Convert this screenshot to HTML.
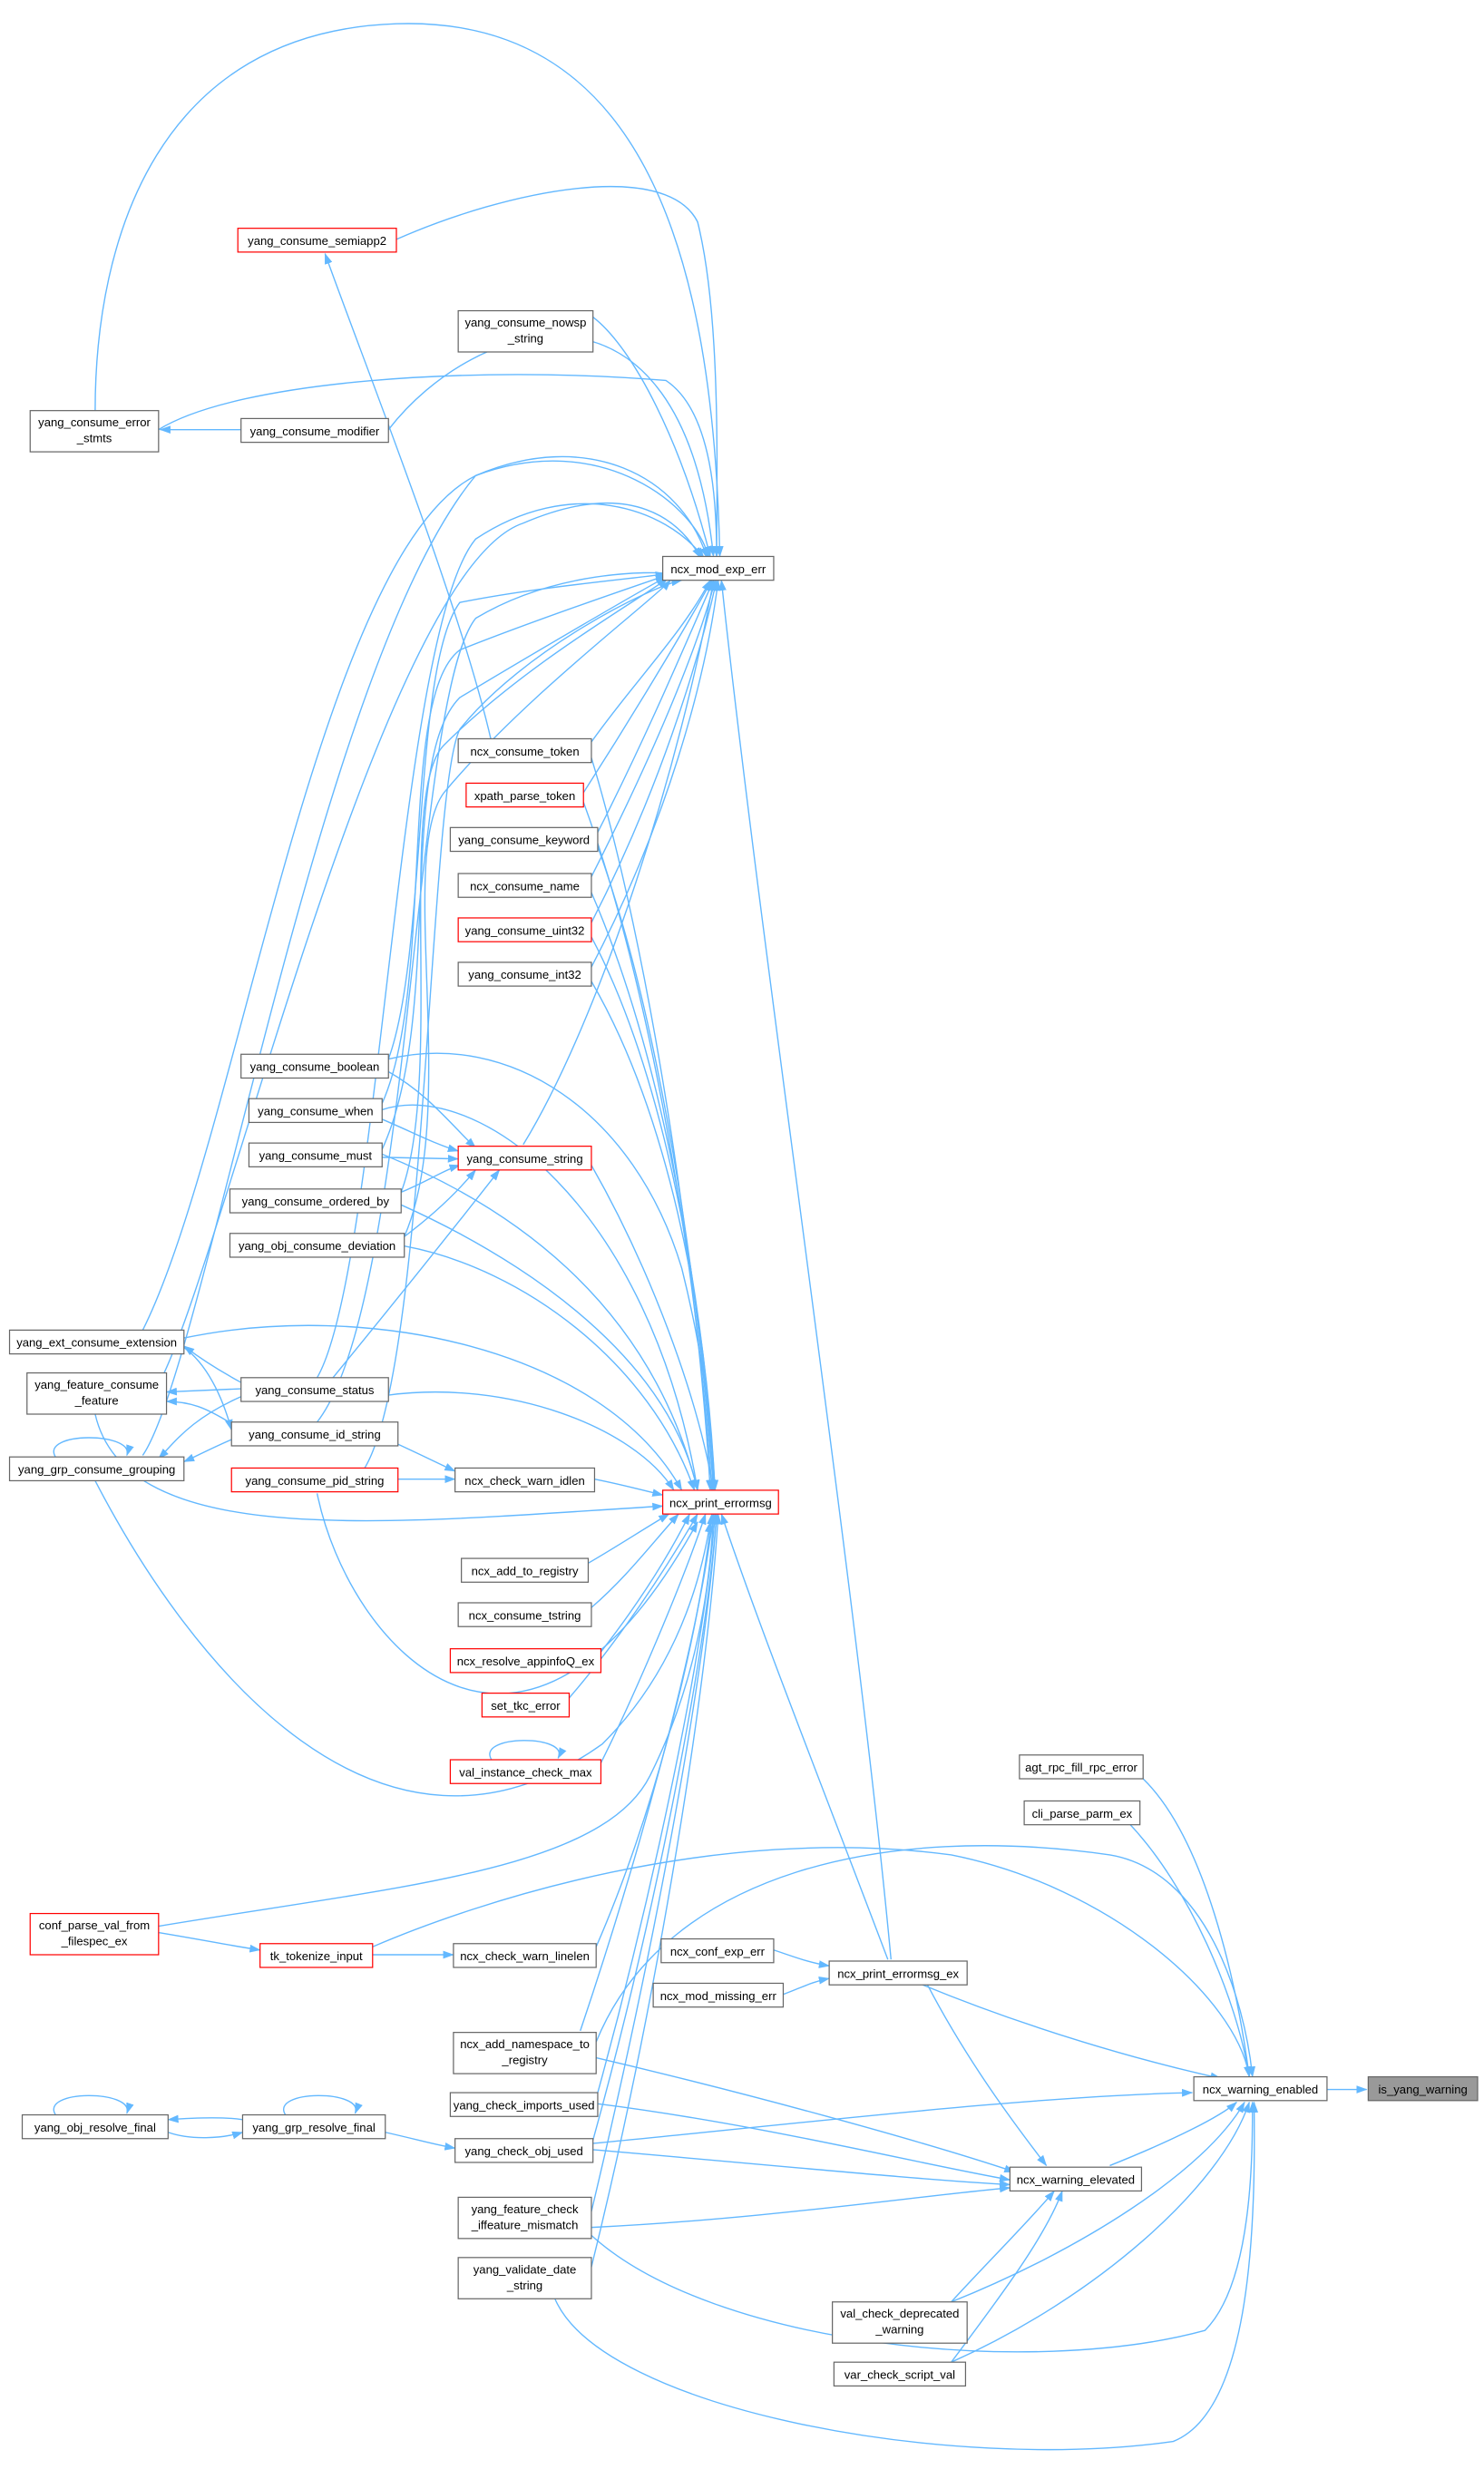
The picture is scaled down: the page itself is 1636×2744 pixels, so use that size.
<!DOCTYPE html>
<html><head><meta charset="utf-8"><style>
html,body{margin:0;padding:0;background:#fff}
svg{display:block}
text{font-family:"Liberation Sans",sans-serif;font-size:7.5px;fill:#000;text-anchor:middle}
.e{fill:none;stroke:#63b8ff;stroke-width:0.8}
.n{fill:#fff;stroke:#666;stroke-width:0.7}
.r{fill:#fff;stroke:#ff0000;stroke-width:0.7}
</style></head><body>
<svg width="1636" height="2744" viewBox="0 0 936 1570" xmlns="http://www.w3.org/2000/svg">
<defs><marker id="a" markerWidth="7" markerHeight="5" refX="6.5" refY="2.5" orient="auto" markerUnits="userSpaceOnUse"><path d="M0,0 L7,2.5 L0,5 z" fill="#63b8ff"/></marker></defs>
<g class="e" marker-end="url(#a)">
<path d="M837,1318 L862,1318"/>
<path d="M721,1122 C760,1160 780,1250 788,1310"/>
<path d="M712,1150 C750,1190 780,1260 788,1310"/>
<path d="M582,1252 C650,1280 720,1300 770,1311"/>
<path d="M700,1366 C740,1350 770,1335 780,1326"/>
<path d="M600,1452 C680,1420 760,1370 785,1326"/>
<path d="M600,1490 C690,1450 770,1380 788,1326"/>
<path d="M376,1288 C420,1180 560,1150 700,1170 C760,1180 785,1260 790,1310"/>
<path d="M235,1228 C300,1200 450,1150 600,1170 C700,1190 780,1260 788,1310"/>
<path d="M374,1352 C500,1340 650,1322 752,1320"/>
<path d="M373,1410 C450,1480 650,1500 760,1470 C790,1440 790,1360 790,1326"/>
<path d="M350,1450 C380,1520 600,1560 740,1540 C790,1520 792,1400 791,1326"/>
<path d="M585,1252 C610,1300 640,1340 660,1366"/>
<path d="M376,1298 C470,1320 580,1350 640,1370"/>
<path d="M377,1327 C480,1340 580,1365 637,1375"/>
<path d="M374,1356 C480,1365 580,1375 637,1378"/>
<path d="M373,1405 C480,1400 580,1385 637,1380"/>
<path d="M600,1452 C620,1430 650,1400 665,1382"/>
<path d="M600,1490 C630,1450 660,1410 670,1382"/>
<path d="M488,1230 C500,1234 510,1238 523,1240"/>
<path d="M494,1258 C505,1254 512,1250 523,1248"/>
<path d="M250,151 C320,120 420,100 440,140 C455,200 452,300 452,351"/>
<path d="M374,200 C400,220 430,280 448,351"/>
<path d="M245,271 C300,200 430,160 450,351"/>
<path d="M60,259 C60,150 100,20 250,15 C400,10 450,150 454,351"/>
<path d="M100,271 C150,240 300,230 420,240 C450,260 452,320 452,351"/>
<path d="M373,468 C400,430 430,400 448,366"/>
<path d="M368,500 C400,450 430,400 449,366"/>
<path d="M377,525 C410,460 435,400 450,366"/>
<path d="M373,553 C410,480 440,410 451,366"/>
<path d="M373,582 C415,500 440,420 452,366"/>
<path d="M373,610 C420,520 445,430 453,366"/>
<path d="M245,668 C270,600 260,420 290,380 C340,370 400,365 420,362"/>
<path d="M241,696 C275,620 250,440 290,410 C340,390 400,370 420,363"/>
<path d="M241,725 C280,640 250,480 290,440 C340,410 400,375 420,364"/>
<path d="M330,722 C380,640 430,480 450,366"/>
<path d="M253,752 C280,680 250,500 280,470 C330,420 400,380 421,365"/>
<path d="M255,780 C290,700 250,540 280,500 C330,440 410,380 423,366"/>
<path d="M90,839 C150,720 200,350 300,300 C370,270 430,300 446,352"/>
<path d="M200,869 C240,800 250,400 300,340 C360,300 420,320 444,352"/>
<path d="M100,873 C140,800 240,360 330,330 C400,300 430,330 442,352"/>
<path d="M200,897 C260,820 260,440 300,390 C350,360 410,360 425,362"/>
<path d="M90,918 C130,860 200,420 300,300 C380,270 440,320 447,352"/>
<path d="M230,926 C270,860 270,500 290,460 C330,410 410,370 430,366"/>
<path d="M562,1236 C540,1000 480,600 455,366"/>
<path d="M152,271 L101,271"/>
<path d="M310,468 C290,380 230,230 205,160"/>
<path d="M245,676 C270,690 285,710 300,724"/>
<path d="M241,706 C260,714 275,722 289,726"/>
<path d="M241,730 L289,731"/>
<path d="M253,752 C270,745 280,738 290,735"/>
<path d="M255,780 C275,765 290,750 300,738"/>
<path d="M210,869 C250,820 290,770 315,738"/>
<path d="M152,872 C130,860 120,852 116,849"/>
<path d="M152,876 L105,878"/>
<path d="M152,881 C120,895 110,910 100,920"/>
<path d="M146,898 C130,888 120,884 105,884"/>
<path d="M146,908 C130,915 125,918 116,922"/>
<path d="M116,850 C130,860 140,880 146,902"/>
<path d="M220,897 C250,910 270,920 287,928"/>
<path d="M251,933 L287,933"/>
<path d="M375,933 C395,937 405,940 418,943"/>
<path d="M373,478 C410,600 440,800 448,940"/>
<path d="M368,506 C410,620 440,800 449,940"/>
<path d="M377,534 C415,640 440,800 450,940"/>
<path d="M373,563 C415,660 442,800 450,940"/>
<path d="M373,591 C420,680 444,820 451,940"/>
<path d="M373,619 C420,700 445,820 451,940"/>
<path d="M373,735 C410,800 440,880 450,940"/>
<path d="M245,668 C320,650 400,700 430,800 C445,860 450,910 450,940"/>
<path d="M241,700 C300,680 410,760 440,940"/>
<path d="M241,728 C320,760 410,820 440,940"/>
<path d="M253,760 C320,790 420,850 440,940"/>
<path d="M255,786 C330,800 410,860 438,940"/>
<path d="M116,844 C230,820 380,850 430,940"/>
<path d="M245,880 C320,870 400,900 425,940"/>
<path d="M60,892 C80,980 250,960 418,950"/>
<path d="M200,942 C220,1040 330,1160 440,960"/>
<path d="M60,934 C120,1050 240,1200 380,1100 C420,1060 440,1010 448,960"/>
<path d="M371,986 C390,975 405,965 422,955"/>
<path d="M373,1014 C395,995 410,975 428,955"/>
<path d="M379,1042 C400,1015 420,985 435,955"/>
<path d="M359,1071 C390,1035 420,990 440,955"/>
<path d="M379,1112 C400,1070 430,1000 445,955"/>
<path d="M100,1215 C250,1190 380,1180 410,1120 C440,1060 448,1000 450,955"/>
<path d="M376,1228 C410,1150 440,1040 449,955"/>
<path d="M366,1281 C400,1180 440,1040 450,955"/>
<path d="M377,1320 C410,1200 445,1040 451,955"/>
<path d="M374,1350 C410,1220 445,1050 452,955"/>
<path d="M373,1395 C410,1240 445,1060 452,955"/>
<path d="M373,1430 C415,1260 447,1060 453,955"/>
<path d="M560,1236 C520,1130 480,1030 455,955"/>
<path d="M100,1219 C130,1224 150,1228 164,1230"/>
<path d="M235,1233 L286,1233"/>
<path d="M243,1345 C265,1350 275,1353 287,1355"/>
<path d="M153,1337 C140,1335 120,1336 106,1337"/>
<path d="M106,1345 C120,1350 140,1349 153,1345"/>
<path d="M35,1334 C25,1318 85,1318 80,1333"/>
<path d="M180,1334 C170,1318 230,1318 224,1333"/>
<path d="M35,919 C25,903 85,903 80,918"/>
<path d="M310,1110 C300,1094 360,1094 352,1109"/>
</g>
<g>
<rect class="n" x="863" y="1310" width="69" height="15" style="fill:#999"/><text x="897.5" y="1320.5">is_yang_warning</text>
<rect class="n" x="753" y="1310" width="84" height="15"/><text x="795" y="1320.5">ncx_warning_enabled</text>
<rect class="n" x="643" y="1107" width="78" height="15"/><text x="682" y="1117.5">agt_rpc_fill_rpc_error</text>
<rect class="n" x="646" y="1136" width="73" height="15"/><text x="682.5" y="1146.5">cli_parse_parm_ex</text>
<rect class="n" x="523" y="1237" width="87" height="15"/><text x="566.5" y="1247.5">ncx_print_errormsg_ex</text>
<rect class="n" x="417" y="1223" width="71" height="15"/><text x="452.5" y="1233.5">ncx_conf_exp_err</text>
<rect class="n" x="412" y="1251" width="82" height="15"/><text x="453" y="1261.5">ncx_mod_missing_err</text>
<rect class="n" x="637" y="1367" width="83" height="15"/><text x="678.5" y="1377.5">ncx_warning_elevated</text>
<rect class="n" x="525" y="1452" width="85" height="26"/><text x="567.5" y="1462">val_check_deprecated</text><text x="567.5" y="1472">_warning</text>
<rect class="n" x="526" y="1490" width="83" height="15"/><text x="567.5" y="1500.5">var_check_script_val</text>
<rect class="n" x="418" y="351" width="70" height="15"/><text x="453" y="361.5">ncx_mod_exp_err</text>
<rect class="r" x="418" y="940" width="73" height="15"/><text x="454.5" y="950.5">ncx_print_errormsg</text>
<rect class="r" x="150" y="144" width="100" height="15"/><text x="200" y="154.5">yang_consume_semiapp2</text>
<rect class="n" x="289" y="196" width="85" height="26"/><text x="331.5" y="206">yang_consume_nowsp</text><text x="331.5" y="216">_string</text>
<rect class="n" x="152" y="264" width="93" height="15"/><text x="198.5" y="274.5">yang_consume_modifier</text>
<rect class="n" x="19" y="259" width="81" height="26"/><text x="59.5" y="269">yang_consume_error</text><text x="59.5" y="279">_stmts</text>
<rect class="n" x="289" y="466" width="84" height="15"/><text x="331" y="476.5">ncx_consume_token</text>
<rect class="r" x="294" y="494" width="74" height="15"/><text x="331" y="504.5">xpath_parse_token</text>
<rect class="n" x="284" y="522" width="93" height="15"/><text x="330.5" y="532.5">yang_consume_keyword</text>
<rect class="n" x="289" y="551" width="84" height="15"/><text x="331" y="561.5">ncx_consume_name</text>
<rect class="r" x="289" y="579" width="84" height="15"/><text x="331" y="589.5">yang_consume_uint32</text>
<rect class="n" x="289" y="607" width="84" height="15"/><text x="331" y="617.5">yang_consume_int32</text>
<rect class="n" x="152" y="665" width="93" height="15"/><text x="198.5" y="675.5">yang_consume_boolean</text>
<rect class="n" x="157" y="693" width="84" height="15"/><text x="199" y="703.5">yang_consume_when</text>
<rect class="n" x="157" y="721" width="84" height="15"/><text x="199" y="731.5">yang_consume_must</text>
<rect class="r" x="289" y="723" width="84" height="15"/><text x="331" y="733.5">yang_consume_string</text>
<rect class="n" x="145" y="750" width="108" height="15"/><text x="199" y="760.5">yang_consume_ordered_by</text>
<rect class="n" x="145" y="778" width="110" height="15"/><text x="200" y="788.5">yang_obj_consume_deviation</text>
<rect class="n" x="6" y="839" width="110" height="15"/><text x="61" y="849.5">yang_ext_consume_extension</text>
<rect class="n" x="152" y="869" width="93" height="15"/><text x="198.5" y="879.5">yang_consume_status</text>
<rect class="n" x="17" y="866" width="88" height="26"/><text x="61" y="876">yang_feature_consume</text><text x="61" y="886">_feature</text>
<rect class="n" x="146" y="897" width="105" height="15"/><text x="198.5" y="907.5">yang_consume_id_string</text>
<rect class="n" x="6" y="919" width="110" height="15"/><text x="61" y="929.5">yang_grp_consume_grouping</text>
<rect class="r" x="146" y="926" width="105" height="15"/><text x="198.5" y="936.5">yang_consume_pid_string</text>
<rect class="n" x="287" y="926" width="88" height="15"/><text x="331" y="936.5">ncx_check_warn_idlen</text>
<rect class="n" x="291" y="983" width="80" height="15"/><text x="331" y="993.5">ncx_add_to_registry</text>
<rect class="n" x="289" y="1011" width="84" height="15"/><text x="331" y="1021.5">ncx_consume_tstring</text>
<rect class="r" x="284" y="1040" width="95" height="15"/><text x="331.5" y="1050.5">ncx_resolve_appinfoQ_ex</text>
<rect class="r" x="304" y="1068" width="55" height="15"/><text x="331.5" y="1078.5">set_tkc_error</text>
<rect class="r" x="284" y="1110" width="95" height="15"/><text x="331.5" y="1120.5">val_instance_check_max</text>
<rect class="r" x="19" y="1207" width="81" height="26"/><text x="59.5" y="1217">conf_parse_val_from</text><text x="59.5" y="1227">_filespec_ex</text>
<rect class="r" x="164" y="1226" width="71" height="15"/><text x="199.5" y="1236.5">tk_tokenize_input</text>
<rect class="n" x="286" y="1226" width="90" height="15"/><text x="331" y="1236.5">ncx_check_warn_linelen</text>
<rect class="n" x="286" y="1282" width="90" height="26"/><text x="331" y="1292">ncx_add_namespace_to</text><text x="331" y="1302">_registry</text>
<rect class="n" x="284" y="1320" width="93" height="15"/><text x="330.5" y="1330.5">yang_check_imports_used</text>
<rect class="n" x="287" y="1349" width="87" height="15"/><text x="330.5" y="1359.5">yang_check_obj_used</text>
<rect class="n" x="153" y="1334" width="90" height="15"/><text x="198" y="1344.5">yang_grp_resolve_final</text>
<rect class="n" x="14" y="1334" width="92" height="15"/><text x="60" y="1344.5">yang_obj_resolve_final</text>
<rect class="n" x="289" y="1386" width="84" height="26"/><text x="331" y="1396">yang_feature_check</text><text x="331" y="1406">_iffeature_mismatch</text>
<rect class="n" x="289" y="1424" width="84" height="26"/><text x="331" y="1434">yang_validate_date</text><text x="331" y="1444">_string</text>
</g>
</svg>
</body></html>
